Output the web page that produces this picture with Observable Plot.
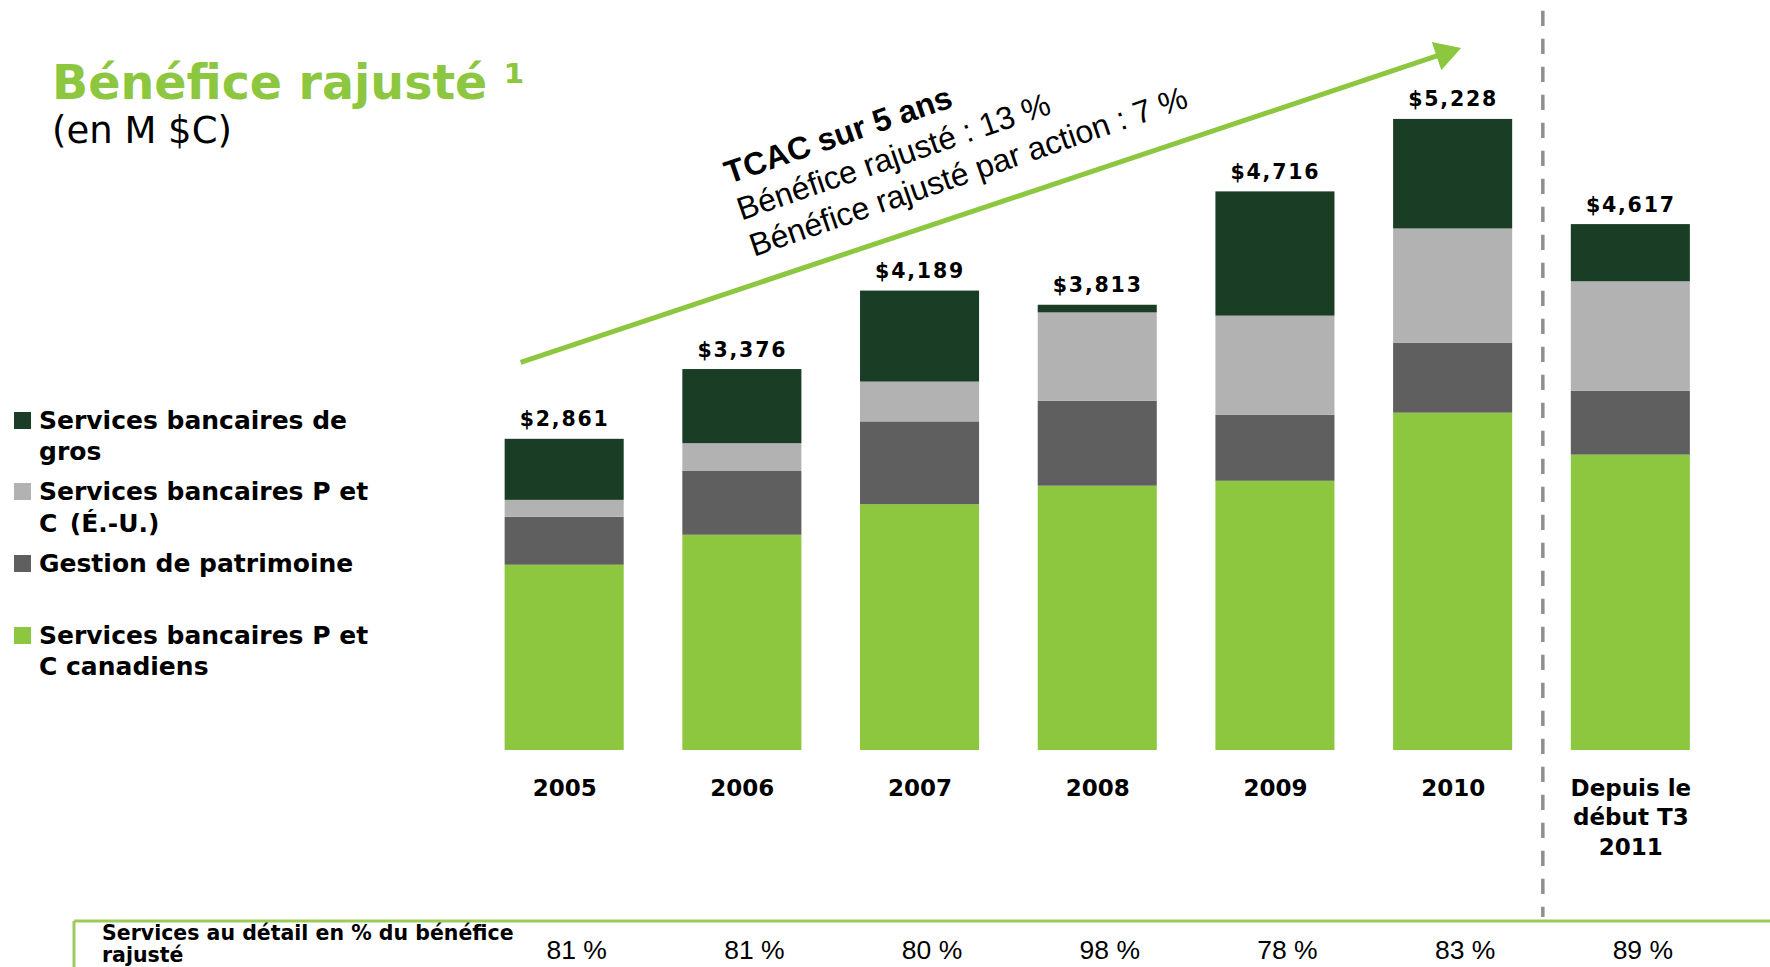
<!DOCTYPE html>
<html>
<head>
<meta charset="utf-8">
<script src="https://cdn.jsdelivr.net/npm/d3@7"></script>
<script src="https://cdn.jsdelivr.net/npm/@observablehq/plot@0.6"></script>
<style>
  html, body { margin: 0; padding: 0; background: #fff; }
  #chart { position: relative; width: 1770px; height: 967px; overflow: hidden; }
</style>
</head>
<body>
<div id="chart"></div>
<script>
// ---- data ----
const periods = ["2005", "2006", "2007", "2008", "2009", "2010", "Depuis le\ndébut T3\n2011"];
const segments = [
  "Services bancaires P et C canadiens",
  "Gestion de patrimoine",
  "Services bancaires P et C (É.-U.)",
  "Services bancaires de gros"
];
const segmentColors = ["#8DC63F", "#5F5F5F", "#B2B2B2", "#193D25"];
const canadianPC = [1700, 1975, 2255, 2425, 2470, 3095, 2710];
const wealth     = [440, 585, 760, 780, 605, 640, 585];
const usPC       = [155, 255, 365, 810, 910, 1050, 1005];
const wholesale  = [560, 680, 835, 70, 1140, 1005, 525];
const totals     = [2861, 3376, 4189, 3813, 4716, 5228, 4617];
const retailShare = [81, 81, 80, 98, 78, 83, 89];
const cagrLines = ["TCAC sur 5 ans", "Bénéfice rajusté : 13 %", "Bénéfice rajusté par action : 7 %"];
const legendItems = [
  {segment: "Services bancaires de gros", lines: ["Services bancaires de", "gros"]},
  {segment: "Services bancaires P et C (É.-U.)", lines: ["Services bancaires P et", "C\u2002(É.-U.)"]},
  {segment: "Gestion de patrimoine", lines: ["Gestion de patrimoine"]},
  {segment: "Services bancaires P et C canadiens", lines: ["Services bancaires P et", "C canadiens"]}
];
const arrowStart = {period: "2005", value: 3695};
const arrowEnd   = {period: "2010", value: 6422};
const arrowHead  = {period: "2010", value: 6396};

const green = "#8DC63F";
const series = [canadianPC, wealth, usPC, wholesale];
const rows = periods.flatMap((p, i) => series.map((arr, k) => ({period: p, segment: segments[k], value: arr[i]})));
const tops = periods.map((p, i) => ({period: p, top: series.reduce((s, arr) => s + arr[i], 0), total: totals[i]}));
const fmt = d3.format(",");

const plot = Plot.plot({
  width: 1770,
  height: 967,
  marginTop: 0,
  marginBottom: 217,
  marginLeft: 446,
  marginRight: 21.5,
  style: {fontFamily: "DejaVu Sans", background: "transparent", overflow: "visible", color: "#000"},
  x: {domain: periods, padding: 0.33, round: false, axis: null, label: null},
  y: {domain: [0, 6881], axis: null, label: null},
  color: {domain: segments, range: segmentColors},
  marks: [
    Plot.barY(rows, {x: "period", y: "value", fill: "segment"}),
    Plot.text(tops, {x: "period", y: "top", text: d => "$" + fmt(d.total), dy: -13, lineAnchor: "bottom",
      fontSize: 20.5, fontWeight: "bold", fontFamily: "DejaVu Sans", fill: "#000"}),
    Plot.axisX({tickSize: 0, tickPadding: 23.8, fontSize: 23, fontWeight: "bold", fontFamily: "DejaVu Sans",
      lineHeight: 1.3, label: null, fill: "#000"}),
    Plot.axisX({tickSize: 0, tickPadding: 189.5, fontSize: 26.5, fontFamily: "Liberation Sans", fill: "#000",
      tickFormat: d => retailShare[periods.indexOf(d)] + " %", dx: 12, label: null}),
    Plot.ruleX([periods[6]], {x: d => d, dx: -88, insetTop: 10.7, insetBottom: -167,
      stroke: "#8F8F8F", strokeWidth: 3.5, strokeDasharray: "15.3,12.7"}),
    Plot.arrow([{a: arrowStart, b: arrowEnd}], {x1: d => d.a.period, y1: d => d.a.value, x2: d => d.b.period, y2: d => d.b.value,
      stroke: green, strokeWidth: 5, headLength: 0, insetStart: -46.4, insetEnd: 14, strokeLinecap: "butt"}),
    Plot.dot([arrowHead], {x: "period", y: "value", dx: -8.4, symbol: "triangle", r: 11.1, rotate: 71.5, fill: green, stroke: null})
  ]
});
document.getElementById("chart").appendChild(plot);

const svg = d3.select(plot);
svg.selectAll('g[aria-label="text"]').attr("letter-spacing", "1.8px");

const deco = svg.append("g").attr("text-anchor", "start");

// title & subtitle
deco.append("text").attr("x", 52).attr("y", 99)
  .attr("font-family", "DejaVu Sans").attr("font-weight", "bold").attr("font-size", 47.5).attr("fill", green)
  .text("Bénéfice rajusté ¹");
deco.append("text").attr("x", 52).attr("y", 143.3)
  .attr("font-family", "DejaVu Sans").attr("font-size", 37).attr("fill", "#000")
  .text("(en M $C)");

// legend
const legendBaselines = [[428.5, 459.5], [499.5, 531.5], [571.5], [643.5, 674.5]];
const lg = deco.append("g").attr("font-family", "DejaVu Sans").attr("font-weight", "bold").attr("font-size", 25).attr("fill", "#000");
legendItems.forEach((item, i) => {
  const b = legendBaselines[i];
  lg.append("rect").attr("x", 14).attr("y", b[0] - 16.5).attr("width", 17).attr("height", 17)
    .attr("fill", segmentColors[segments.indexOf(item.segment)]);
  item.lines.forEach((line, j) => {
    lg.append("text").attr("x", 39).attr("y", b[j]).text(line);
  });
});

// rotated CAGR annotation
const ann = deco.append("text").attr("transform", "translate(729,184) rotate(-19)")
  .attr("font-family", "Liberation Sans").attr("font-size", 32).attr("fill", "#000");
cagrLines.forEach((t, i) => {
  ann.append("tspan").attr("x", 0).attr("y", i * 38.5).attr("font-weight", i === 0 ? "bold" : "normal").text(t);
});

// bottom table row
deco.append("line").attr("x1", 74).attr("x2", 1770).attr("y1", 921).attr("y2", 921)
  .attr("stroke", "#9BCB5A").attr("stroke-width", 3);
deco.append("line").attr("x1", 74).attr("x2", 74).attr("y1", 921).attr("y2", 967)
  .attr("stroke", "#9BCB5A").attr("stroke-width", 3);
const bl = deco.append("text").attr("font-family", "DejaVu Sans").attr("font-weight", "bold").attr("font-size", 20.5).attr("fill", "#000");
bl.append("tspan").attr("x", 102).attr("y", 940).text("Services au détail en % du bénéfice");
bl.append("tspan").attr("x", 102).attr("y", 961.5).text("rajusté");
</script>
</body>
</html>
